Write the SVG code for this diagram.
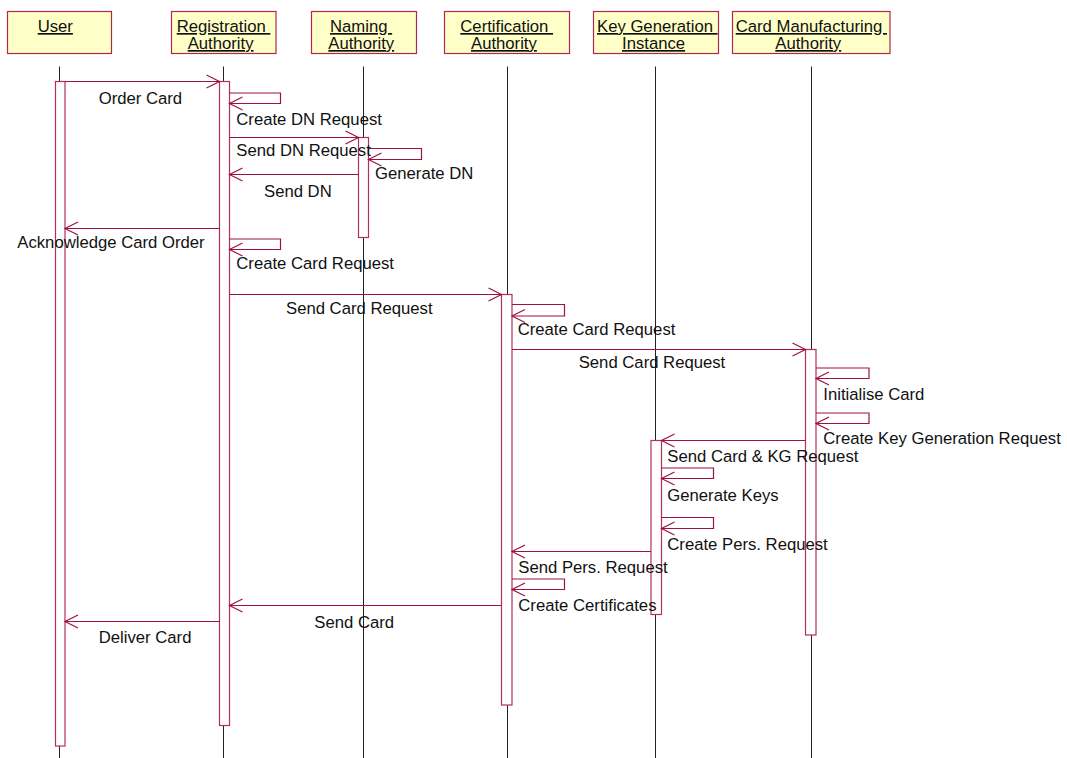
<svg xmlns="http://www.w3.org/2000/svg" width="1067" height="758" viewBox="0 0 1067 758">
<style>
text{font-family:"Liberation Sans",Arial,sans-serif;font-size:16.7px;fill:#111;}
.hd{text-decoration:underline;white-space:pre;}
.box{fill:#ffffc8;stroke:#b0284e;stroke-width:1.2;}
.life{stroke:#222;stroke-width:1;fill:none;}
.bar{fill:#fff;stroke:#b4305a;stroke-width:1.2;}
.msg{stroke:#9e1242;stroke-width:1.2;fill:none;marker-end:url(#open);}
</style>
<defs>
<marker id="open" markerUnits="userSpaceOnUse" markerWidth="16" markerHeight="16" refX="13" refY="6.5" orient="auto" overflow="visible">
<path d="M0,0 L13,6.5 L0,13" fill="none" stroke="#9e1242" stroke-width="1.2"/>
</marker>
</defs>
<rect width="1067" height="758" fill="#fff"/>

<g id="node-user">
<rect class="box" x="7.5" y="11.5" width="104" height="42"/>
<text class="hd" x="37.7" y="32">User</text>
<line class="life" x1="59.5" y1="66.5" x2="59.5" y2="758"/>
<rect class="bar" x="55.5" y="81.5" width="9.5" height="664.5"/>
</g>
<g id="node-ra">
<rect class="box" x="171.5" y="11.5" width="104.5" height="42"/>
<text class="hd" x="176.7" y="32">Registration </text>
<text class="hd" x="187.7" y="49">Authority</text>
<line class="life" x1="223.5" y1="66.5" x2="223.5" y2="758"/>
<rect class="bar" x="219.5" y="81.5" width="10" height="644"/>
</g>
<g id="node-na">
<rect class="box" x="311.5" y="11.5" width="105" height="42"/>
<text class="hd" x="330" y="32">Naming </text>
<text class="hd" x="328.3" y="49">Authority</text>
<line class="life" x1="363.5" y1="66.5" x2="363.5" y2="758"/>
<rect class="bar" x="358.5" y="137.5" width="10" height="100"/>
</g>
<g id="node-ca">
<rect class="box" x="444.5" y="11.5" width="125" height="42"/>
<text class="hd" x="460.3" y="32">Certification </text>
<text class="hd" x="471" y="49">Authority</text>
<line class="life" x1="507.5" y1="66.5" x2="507.5" y2="758"/>
<rect class="bar" x="501.5" y="294.5" width="10.5" height="410.5"/>
</g>
<g id="node-kg">
<rect class="box" x="593.5" y="11.5" width="125" height="42"/>
<text class="hd" x="597" y="32">Key Generation </text>
<text class="hd" x="622" y="49">Instance</text>
<line class="life" x1="655.5" y1="66.5" x2="655.5" y2="758"/>
<rect class="bar" x="651" y="440.5" width="10.5" height="174"/>
</g>
<g id="node-cma">
<rect class="box" x="732.5" y="11.5" width="157.5" height="42"/>
<text class="hd" x="735.7" y="32">Card Manufacturing </text>
<text class="hd" x="775.3" y="49">Authority</text>
<line class="life" x1="811.5" y1="66.5" x2="811.5" y2="758"/>
<rect class="bar" x="805.5" y="349.5" width="10.5" height="285.5"/>
</g>

<g id="connectors">
<line class="msg" x1="65" y1="81.5" x2="219.5" y2="81.5"/>
<polyline class="msg" points="229.5,93 280.5,93 280.5,103.5 229.5,103.5"/>
<line class="msg" x1="229.5" y1="137.5" x2="358.5" y2="137.5"/>
<polyline class="msg" points="368.5,148.5 421.5,148.5 421.5,159.5 368.5,159.5"/>
<line class="msg" x1="358.5" y1="174.5" x2="229.5" y2="174.5"/>
<line class="msg" x1="219.5" y1="228.5" x2="65" y2="228.5"/>
<polyline class="msg" points="229.5,239 280.5,239 280.5,249.5 229.5,249.5"/>
<line class="msg" x1="229.5" y1="294.5" x2="501.5" y2="294.5"/>
<polyline class="msg" points="512,304.5 564.5,304.5 564.5,316 512,316"/>
<line class="msg" x1="512" y1="349.5" x2="805.5" y2="349.5"/>
<polyline class="msg" points="816,368 869,368 869,378.5 816,378.5"/>
<polyline class="msg" points="816,413 869,413 869,423.5 816,423.5"/>
<line class="msg" x1="805.5" y1="440.5" x2="661.5" y2="440.5"/>
<polyline class="msg" points="661.5,468 713.5,468 713.5,478.5 661.5,478.5"/>
<polyline class="msg" points="661.5,517.5 713.5,517.5 713.5,528.5 661.5,528.5"/>
<line class="msg" x1="651" y1="551.5" x2="512" y2="551.5"/>
<polyline class="msg" points="512,579 564.5,579 564.5,589.5 512,589.5"/>
<line class="msg" x1="501.5" y1="605.5" x2="229.5" y2="605.5"/>
<line class="msg" x1="219.5" y1="621.5" x2="65" y2="621.5"/>
</g>

<g id="labels">
<text x="98.7" y="104">Order Card</text>
<text x="236.3" y="125">Create DN Request</text>
<text x="236.3" y="156">Send DN Request</text>
<text x="375" y="179">Generate DN</text>
<text x="264" y="197">Send DN</text>
<text x="17.3" y="248">Acknowledge Card Order</text>
<text x="236.3" y="268.5">Create Card Request</text>
<text x="286" y="314">Send Card Request</text>
<text x="517.7" y="335">Create Card Request</text>
<text x="578.7" y="368">Send Card Request</text>
<text x="823.3" y="400">Initialise Card</text>
<text x="823.3" y="444">Create Key Generation Request</text>
<text x="667.3" y="462">Send Card &amp; KG Request</text>
<text x="667.3" y="501">Generate Keys</text>
<text x="667.3" y="550">Create Pers. Request</text>
<text x="518.3" y="572.5">Send Pers. Request</text>
<text x="518.3" y="611">Create Certificates</text>
<text x="314.3" y="627.5">Send Card</text>
<text x="98.7" y="643">Deliver Card</text>
</g>
</svg>
